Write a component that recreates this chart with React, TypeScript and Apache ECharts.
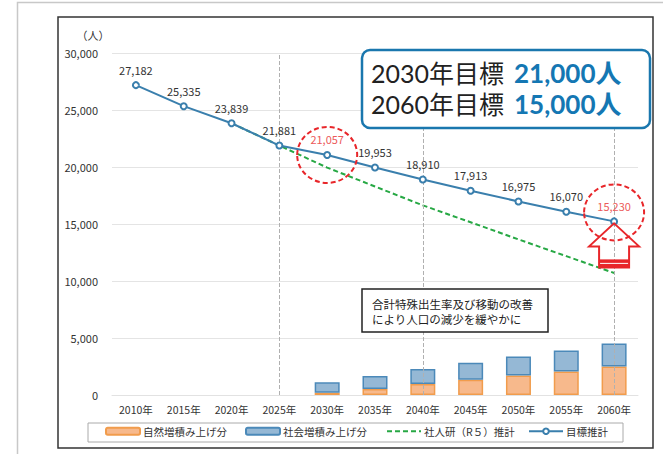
import React, { useEffect, useRef } from "react";
import * as echarts from "echarts";

const years = ["2010年", "2015年", "2020年", "2025年", "2030年", "2035年", "2040年", "2045年", "2050年", "2055年", "2060年"];
const targetValues = [27182, 25335, 23839, 21881, 21057, 19953, 18910, 17913, 16975, 16070, 15230];
const ipssValues = [null, null, 23839, 21881, 19948, 18290, 16637, 15150, 13650, 12180, 10705];
const naturalValues = [null, null, null, null, 200, 526, 965, 1342, 1720, 2070, 2510];
const socialValues = [null, null, null, null, 909, 1140, 1308, 1491, 1666, 1842, 2015];
const ipssLabeledYears = ["2030年", "2040年", "2060年"];
const highlightYears = ["2030年", "2060年"];
const guideYears = ["2025年", "2040年", "2060年"];
const yTicks = { min: 0, max: 30000, interval: 5000 };

const seriesNames = ["自然増積み上げ分", "社会増積み上げ分", "社人研（R５）推計", "目標推計"];
const noteLines = ["合計特殊出生率及び移動の改善", "により人口の減少を緩やかに"];
const goalLines = [
  { label: "2030年目標", value: "21,000人" },
  { label: "2060年目標", value: "15,000人" },
];

const FONT = "'Noto Sans CJK JP', 'Noto Sans', sans-serif";
const GOAL_FONT = "Lato, 'Noto Sans CJK JP', sans-serif";
const BLUE = "#3a7fad";
const RED = "#e8262a";
const fmt = (v: number) => v.toLocaleString("en-US");

export default function App() {
  const ref = useRef<HTMLDivElement>(null);
  useEffect(() => {
    if (!ref.current) return;
    const chart = echarts.init(ref.current, null, { renderer: "svg" });
    const labelText = { fontFamily: FONT, fontSize: 11, color: "#333" };
    chart.setOption({
      animation: false,
      textStyle: { fontFamily: FONT },
      grid: { left: 112, right: 25, top: 53, bottom: 59, containLabel: false },
      legend: [
        { data: [seriesNames[0]], left: 105, top: 426 },
        { data: [seriesNames[1]], left: 245, top: 426 },
        { data: [{ name: seriesNames[2], itemStyle: { opacity: 0 } }], left: 386, top: 426 },
        { data: [seriesNames[3]], left: 528, top: 426 },
      ].map((l) => ({
        ...l,
        padding: 0,
        itemWidth: 34,
        itemHeight: 7,
        itemGap: 4,
        selectedMode: false,
        textStyle: { fontFamily: FONT, fontSize: 10.5, color: "#333", padding: [0, 0, 0, -2] },
      })),
      xAxis: {
        type: "category",
        data: years,
        axisLine: { show: true, lineStyle: { color: "#e2e2e2" } },
        axisTick: { show: false },
        axisLabel: { ...labelText, fontSize: 10.5, margin: 9 },
      },
      yAxis: {
        type: "value",
        ...yTicks,
        axisLine: { show: false },
        axisTick: { show: false },
        splitLine: { lineStyle: { color: "#e4e4e4" } },
        axisLabel: { ...labelText, margin: 14, formatter: (v: number) => fmt(v) },
      },
      series: [
        {
          name: seriesNames[0],
          type: "bar",
          stack: "inc",
          barWidth: 25,
          data: naturalValues,
          itemStyle: { color: "#f7b98c", borderColor: "#f19c4c", borderWidth: 1.5 },
          markLine: {
            silent: true,
            symbol: "none",
            label: { show: false },
            lineStyle: { type: "dashed", color: "#b0b0b0", width: 1 },
            data: guideYears.map((y) => ({ xAxis: y })),
          },
        },
        {
          name: seriesNames[1],
          type: "bar",
          stack: "inc",
          barWidth: 25,
          data: socialValues,
          itemStyle: { color: "#95b8d5", borderColor: "#4b89b9", borderWidth: 1.5 },
        },
        {
          name: seriesNames[2],
          type: "line",
          symbol: "none",
          data: ipssValues.map((v, i) => ({
            value: v,
            label: {
              show: ipssLabeledYears.includes(years[i]),
              position: "bottom",
              distance: 11,
              ...labelText,
              formatter: () => fmt(v as number),
            },
          })),
          lineStyle: { color: "#27a844", width: 2, type: [5, 3] },
          itemStyle: { color: "#27a844" },
        },
        {
          name: seriesNames[3],
          type: "line",
          symbol: "emptyCircle",
          symbolSize: 6,
          z: 5,
          data: targetValues.map((v, i) => ({
            value: v,
            label: {
              show: true,
              position: "top",
              distance: 6,
              ...labelText,
              color: highlightYears.includes(years[i]) ? "#ec5a5a" : "#333",
              formatter: () => fmt(v),
            },
          })),
          lineStyle: { color: BLUE, width: 2 },
          itemStyle: { color: BLUE, borderWidth: 1.5 },
        },
      ],
    });

    const px = (cat: string, v: number) =>
      chart.convertToPixel({ xAxisIndex: 0, yAxisIndex: 0 }, [years.indexOf(cat), v]) as number[];

    const goalText = goalLines.map((g) => `{a|${g.label}}{b|${g.value}}`).join("\n");

    const graphics: any[] = [
      { type: "rect", shape: { x: 17.5, y: 2.5, width: 700, height: 500 }, style: { fill: "none", stroke: "#c8c8c8", lineWidth: 1.5 }, silent: true },
      { type: "rect", shape: { x: 58, y: 17, width: 595, height: 431 }, style: { fill: "none", stroke: "#333", lineWidth: 1.5 }, silent: true },
      { type: "rect", shape: { x: 88, y: 423, width: 535, height: 19 }, style: { fill: "none", stroke: "#aaa", lineWidth: 1 }, silent: true },
      { type: "text", x: 93, y: 35, style: { text: "（人）", fontFamily: FONT, fontSize: 11, fill: "#333", align: "center", verticalAlign: "middle" } },
      // goal callout
      { type: "rect", z: 100, shape: { x: 362, y: 50, width: 288, height: 78, r: 8 }, style: { fill: "#fff", stroke: "#1a77ae", lineWidth: 2.5 } },
      {
        type: "text", z: 101, x: 371, y: 88,
        style: {
          text: goalText,
          fontFamily: GOAL_FONT,
          align: "left",
          verticalAlign: "middle",
          rich: {
            a: { fontFamily: GOAL_FONT, fontSize: 25, fill: "#222", lineHeight: 31 },
            b: { fontFamily: GOAL_FONT, fontSize: 26, fontWeight: "bold", fill: "#1477b3", lineHeight: 31, padding: [0, 0, 0, 10] },
          },
        },
      },
      // note box
      { type: "rect", z: 100, shape: { x: 362, y: 289, width: 186, height: 43 }, style: { fill: "#fff", stroke: "#222", lineWidth: 1.5 } },
      {
        type: "text", z: 101, x: 372, y: 311,
        style: { text: noteLines.join("\n"), fontFamily: FONT, fontSize: 11.5, lineHeight: 15, fill: "#222", align: "left", verticalAlign: "middle" },
      },
    ];

    highlightYears.forEach((y) => {
      const [cx, cy] = px(y, targetValues[years.indexOf(y)]);
      graphics.push({
        type: "ellipse", z: 50,
        shape: { cx, cy: y === "2030年" ? cy : cy - 9, rx: 30, ry: 28 },
        style: { fill: "none", stroke: RED, lineWidth: 2, lineDash: [5, 3] },
      });
    });

    const [ax, ay] = px("2060年", targetValues[years.length - 1]);
    const tipY = ay + 2;
    graphics.push(
      {
        type: "polygon", z: 51,
        shape: {
          points: [
            [ax, tipY], [ax + 25, tipY + 23], [ax + 15, tipY + 23], [ax + 15, tipY + 44],
            [ax - 15, tipY + 44], [ax - 15, tipY + 23], [ax - 25, tipY + 23],
          ],
        },
        style: { fill: "none", stroke: RED, lineWidth: 2 },
      },
      { type: "rect", z: 52, shape: { x: ax - 15, y: tipY + 36, width: 30, height: 8 }, style: { fill: RED } },
      { type: "line", z: 53, shape: { x1: ax - 14, y1: tipY + 40, x2: ax + 14, y2: tipY + 40 }, style: { stroke: "#fff", lineWidth: 1 } },
    );

    chart.setOption({ graphic: graphics });
    return () => chart.dispose();
  }, []);
  return <div ref={ref} style={{ position: "fixed", left: 0, top: 0, width: 663, height: 454, background: "#fff" }} />;
}
